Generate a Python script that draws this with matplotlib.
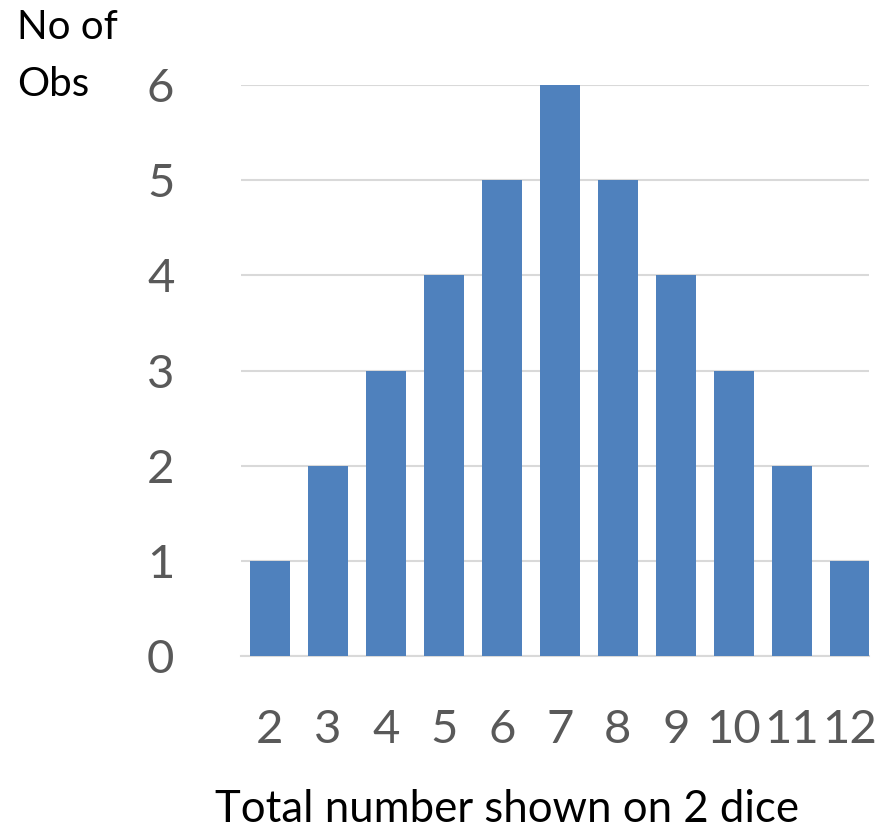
import matplotlib.pyplot as plt

# dice totals and how many ways each occurs
totals = ['2', '3', '4', '5', '6', '7', '8', '9', '10', '11', '12']
counts = [1, 2, 3, 4, 5, 6, 5, 4, 3, 2, 1]
y_ticks = [0, 1, 2, 3, 4, 5, 6]

plt.rcParams['font.family'] = ['Lato', 'DejaVu Sans']

W, H = 879, 831
fig = plt.figure(figsize=(W / 100, H / 100), dpi=100)
ax = fig.add_axes([241 / W, 1 - 656 / H, (869 - 241) / W, (656 - 85) / H])

x = range(len(totals))
ax.bar(x, counts, width=0.7, color='#4F81BD', zorder=3)

ax.set_xlim(-0.5, 10.33)
ax.set_ylim(0, 6)
ax.set_yticks(y_ticks)
ax.set_xticks(list(x))
ax.set_xticklabels(totals)

ax.grid(axis='y', color='#D9D9D9', linewidth=1.5, zorder=0)
for side in ['top', 'right', 'left']:
    ax.spines[side].set_visible(False)
ax.spines['bottom'].set_color('#D9D9D9')
ax.spines['bottom'].set_linewidth(1.5)

ax.tick_params(axis='both', length=0, labelsize=34, labelcolor='#595959')
ax.tick_params(axis='y', pad=48)
ax.tick_params(axis='x', pad=38)

fig.text(507 / W, 1 - 822 / H, 'Total number shown on 2 dice', ha='center',
         va='baseline', fontsize=31.5, color='black')
fig.text(17 / W, 1 - 39 / H, 'No of', ha='left', va='baseline', fontsize=29, color='black')
fig.text(17 / W, 1 - 96 / H, 'Obs', ha='left', va='baseline', fontsize=29, color='black')

fig.savefig('out.png', dpi=100)
